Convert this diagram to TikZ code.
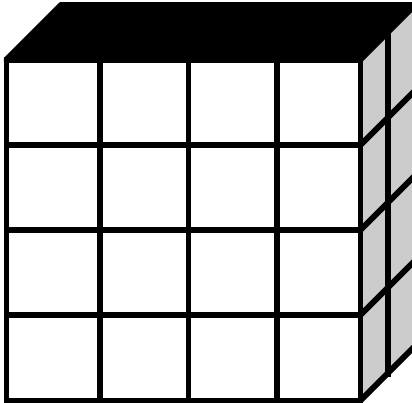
\documentclass[tikz,border=0pt]{standalone}
\begin{document}
\begin{tikzpicture}[x=1pt,y=-1pt,line cap=butt,line join=miter,
  gridline/.style={black,line width=5.8pt}]
\useasboundingbox (0,0) rectangle (412,402);
\clip (0,0) rectangle (412,402);
\fill[white] (0,0) rectangle (412,402);
% right face
\fill[black!20] (360.5,60) -- (417,3) -- (417,343.5) -- (360.5,400) -- cycle;
% top face
\fill[black] (3.8,58) -- (60,2) -- (412,2) -- (412,12) -- (362,62) -- (3.8,62) -- cycle;
% front grid
\foreach \x in {6.5,100,188.5,277,360.5} \draw[gridline] (\x,59) -- (\x,402);
\foreach \y in {60,145,230,315,400.5} \draw[gridline] (4,\y) -- (363,\y);
% side grid
\draw[gridline] (388,32) -- (388,377);
\foreach \y in {145,230,315,400.5} \draw[gridline] (359,\y+1.5) -- (420,\y-59.5);
\end{tikzpicture}
\end{document}
